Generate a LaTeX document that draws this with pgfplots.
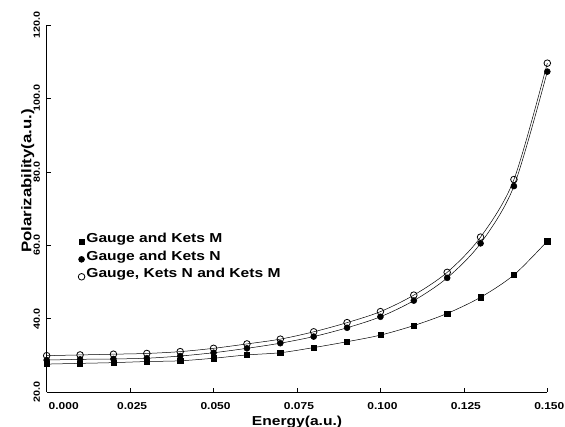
\documentclass[border=0pt]{standalone}
\usepackage{fontspec}
\setmainfont{Liberation Sans}[FakeStretch=1.2]
\usepackage{pgfplots}
\pgfplotsset{compat=1.18}

\begin{document}
\begin{tikzpicture}
% page frame: 565 x 427 (1px = 1pt), axis box at origin
\path[use as bounding box] (-46.7pt,-35pt) rectangle (518.3pt,392pt);
\begin{axis}[
    at={(0pt,0pt)}, anchor=south west,
    scale only axis,
    width=500.6pt, height=367pt,
    xmin=0, xmax=0.15,
    ymin=20, ymax=120,
    axis x line=bottom, axis y line=left,
    axis line style={-, line width=0.6pt},
    tick align=inside,
    major tick length=4pt,
    tick style={line width=0.5pt, black},
    xtick={0,0.025,0.05,0.075,0.1,0.125,0.15},
    xticklabels={\makebox[0pt][l]{0.000},0.025,0.050,0.075,0.100,0.125,0.150},
    ytick={20,40,60,80,100,120},
    yticklabels={20.0,40.0,60.0,80.0,100.0,120.0},
    xticklabel style={anchor=center, yshift=-14pt, xshift=2pt, font=\fontsize{10}{12}\selectfont\bfseries},
    yticklabel style={anchor=center, xshift=-10pt, rotate=90, font=\fontsize{9}{11}\selectfont\bfseries},
    every axis x label/.style={at={(axis description cs:0.5,0)}, anchor=center, yshift=-29.7pt,
        font=\fontsize{13}{15}\selectfont\bfseries},
    every axis y label/.style={at={(axis description cs:0,0.575)}, anchor=center, xshift=-19pt, rotate=90,
        font=\fontsize{14}{16}\selectfont\bfseries},
    xlabel={Energy(a.u.)},
    ylabel={Polarizability(a.u.)},
    clip=false,
    reverse legend,
    legend style={at={(axis cs:0.0085,64.2)}, anchor=north west, draw=none, fill=none,
        font=\fontsize{13}{15}\selectfont\bfseries, row sep=3.5pt,
        nodes={inner sep=1.5pt}},
    legend cell align=left,
    legend image code/.code={\draw[#1,only marks] plot coordinates {(0pt,-3pt)};},
    every axis plot/.append style={black, line width=0.5pt, smooth, tension=0.5},
]
% Gauge, Kets N and Kets M (open circles)
\addplot[mark=o, mark size=3.3pt, mark options={fill=white, line width=0.8pt}] coordinates {
 (0.000,29.9) (0.010,30.1) (0.020,30.3) (0.030,30.5) (0.040,31.0) (0.050,31.9)
 (0.060,33.1) (0.070,34.4) (0.080,36.4) (0.090,38.9) (0.100,41.9) (0.110,46.4)
 (0.120,52.6) (0.130,62.2) (0.140,77.9) (0.150,109.6)
};
\addlegendentry{Gauge, Kets N and Kets M}
% Gauge and Kets N (filled circles)
\addplot[mark=*, mark size=3pt, mark options={fill=black}] coordinates {
 (0.000,28.7) (0.010,28.9) (0.020,29.0) (0.030,29.2) (0.040,29.8) (0.050,30.7)
 (0.060,31.9) (0.070,33.3) (0.080,35.1) (0.090,37.5) (0.100,40.5) (0.110,44.9)
 (0.120,51.1) (0.130,60.5) (0.140,76.1) (0.150,107.3)
};
\addlegendentry{Gauge and Kets N}
% Gauge and Kets M (filled squares)
\addplot[mark=square*, mark size=2.6pt, mark options={fill=black}] coordinates {
 (0.000,27.6) (0.010,27.8) (0.020,28.0) (0.030,28.3) (0.040,28.5) (0.050,29.2)
 (0.060,30.1) (0.070,30.7) (0.080,32.1) (0.090,33.7) (0.100,35.5) (0.110,38.1)
 (0.120,41.4) (0.130,45.8) (0.140,51.9) (0.150,61.1)
};
\addlegendentry{Gauge and Kets M}
\end{axis}
\end{tikzpicture}
\end{document}
